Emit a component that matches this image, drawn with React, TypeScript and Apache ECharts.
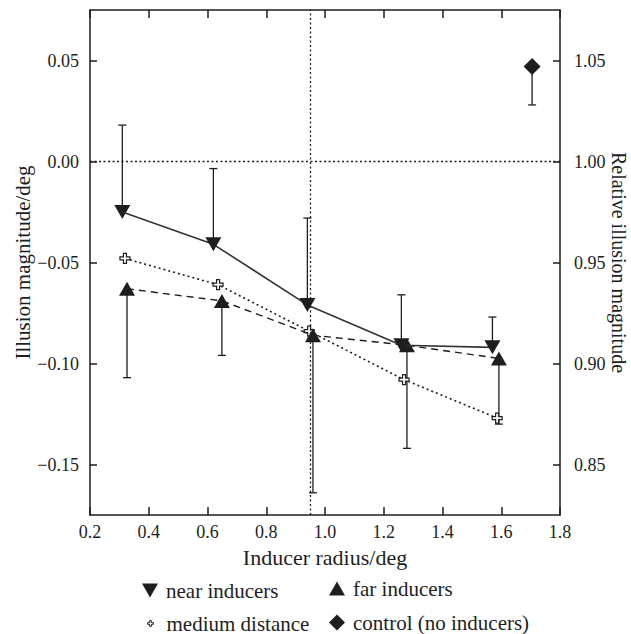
import React, { useEffect, useRef } from "react";
import * as echarts from "echarts";

// ---- data ----
const xNear = [0.31, 0.62, 0.94, 1.26, 1.57];
const yNear = [-0.025, -0.041, -0.071, -0.091, -0.092];
const nearErrTop = [0.018, -0.0035, -0.028, -0.066, -0.077];

const xFar = [0.326, 0.649, 0.959, 1.279, 1.592];
const yFar = [-0.063, -0.069, -0.086, -0.091, -0.0975];
const farErrBottom = [-0.107, -0.096, -0.164, -0.142, -0.13];

const xMedium = [0.319, 0.636, 0.946, 1.269, 1.586];
const yMedium = [-0.048, -0.061, -0.084, -0.108, -0.127];

const xControl = [1.705];
const yControl = [0.047];
const controlErrBottom = [0.028];

const xTicks = [0.2, 0.4, 0.6, 0.8, 1.0, 1.2, 1.4, 1.6, 1.8];
const yLeftTicks = [-0.15, -0.1, -0.05, 0, 0.05];
const yRightTicks = [0.85, 0.9, 0.95, 1.0, 1.05];

const markerLineX = 0.95;
const markerLineY = 0;

const FONT = "Liberation Serif";
const INK = "#1e1e1e";

const DOWN_TRI = "path://M0,0L10,0L5,8.6Z";
const UP_TRI = "path://M5,0L10,8.6L0,8.6Z";
const PLUS =
  "path://M3.5,0L6.5,0L6.5,3.5L10,3.5L10,6.5L6.5,6.5L6.5,10L3.5,10L3.5,6.5L0,6.5L0,3.5L3.5,3.5Z";
const PLUS_PADDED =
  "path://M-4,-4M24,24M8.5,5L11.5,5L11.5,8.5L15,8.5L15,11.5L11.5,11.5L11.5,15L8.5,15L8.5,11.5L5,11.5L5,8.5L8.5,8.5Z";

const fmt = (v: number) => v.toFixed(2).replace("-", "\u2212");

function zip(xs: number[], ys: number[]) {
  return xs.map((x, i) => [x, ys[i]]);
}
function zip3(xs: number[], ys: number[], es: number[]) {
  return xs.map((x, i) => [x, ys[i], es[i]]);
}

const errRender = (params: any, api: any) => {
  const p = api.coord([api.value(0), api.value(1)]);
  const e = api.coord([api.value(0), api.value(2)]);
  return {
    type: "group",
    children: [
      {
        type: "line",
        shape: { x1: p[0], y1: p[1], x2: e[0], y2: e[1] },
        style: { stroke: INK, lineWidth: 1.3 },
      },
      {
        type: "line",
        shape: { x1: e[0] - 4, y1: e[1], x2: e[0] + 4, y2: e[1] },
        style: { stroke: INK, lineWidth: 1.3 },
      },
    ],
  };
};

function legendItem(left: number, top: number, item: any) {
  return {
    left,
    top,
    orient: "horizontal",
    itemWidth: 16,
    itemHeight: 16,
    padding: 0,
    selectedMode: false,
    textStyle: { fontFamily: FONT, fontSize: 21, color: INK, padding: [0, 0, 0, 3] },
    data: [item],
  };
}

export default function App() {
  const ref = useRef<HTMLDivElement>(null);

  useEffect(() => {
    if (!ref.current) return;
    const chart = echarts.init(ref.current, undefined, { renderer: "svg" });

    const axisLine = { show: true, onZero: false, lineStyle: { color: INK, width: 1.5 } };
    const tickStyle = { color: INK, width: 1.5 };

    chart.setOption({
      animation: false,
      backgroundColor: "#fff",
      textStyle: { fontFamily: FONT, color: INK },
      grid: {
        left: 90,
        right: 71,
        top: 10,
        bottom: 119,
        containLabel: false,
        outerBoundsMode: "none",
      },
      xAxis: [
        {
          type: "value",
          position: "bottom",
          min: 0.2,
          max: 1.8,
          interval: 0.2,
          name: "Inducer radius/deg",
          nameLocation: "middle",
          nameGap: 31,
          nameTextStyle: { fontFamily: FONT, fontSize: 22, color: INK },
          axisLine,
          axisTick: { show: true, inside: true, length: 8, lineStyle: tickStyle, customValues: xTicks },
          axisLabel: {
            fontFamily: FONT,
            fontSize: 18,
            color: INK,
            margin: 8,
            customValues: xTicks,
            formatter: (v: number) => v.toFixed(1),
          },
          splitLine: { show: false },
        },
        {
          type: "value",
          position: "top",
          min: 0.2,
          max: 1.8,
          interval: 0.2,
          axisLine,
          axisTick: { show: true, inside: true, length: 8, lineStyle: tickStyle, customValues: xTicks },
          axisLabel: { show: false },
          splitLine: { show: false },
        },
      ],
      yAxis: [
        {
          type: "value",
          position: "left",
          min: -0.175,
          max: 0.075,
          name: "Illusion magnitude/deg",
          nameLocation: "middle",
          nameGap: 57,
          nameMoveOverlap: false,
          nameRotate: 90,
          nameTextStyle: { fontFamily: FONT, fontSize: 21, color: INK },
          axisLine,
          axisTick: { show: true, inside: true, length: 7, lineStyle: tickStyle, customValues: yLeftTicks },
          axisLabel: {
            fontFamily: FONT,
            fontSize: 18,
            color: INK,
            margin: 11,
            customValues: yLeftTicks,
            formatter: (v: number) => fmt(v),
          },
          splitLine: { show: false },
        },
        {
          type: "value",
          position: "right",
          min: 0.825,
          max: 1.075,
          name: "Relative illusion magnitude",
          nameLocation: "middle",
          nameGap: 49,
          nameMoveOverlap: false,
          nameRotate: -90,
          nameTextStyle: { fontFamily: FONT, fontSize: 20, color: INK },
          axisLine,
          axisTick: { show: true, inside: true, length: 7, lineStyle: tickStyle, customValues: yRightTicks },
          axisLabel: {
            fontFamily: FONT,
            fontSize: 18,
            color: INK,
            margin: 14,
            customValues: yRightTicks,
            formatter: (v: number) => fmt(v),
          },
          splitLine: { show: false },
        },
      ],
      legend: [
        legendItem(142, 580, { name: "near inducers", icon: DOWN_TRI, itemStyle: { color: INK, borderWidth: 0 } }),
        legendItem(142, 613, {
          name: "medium distance",
          icon: PLUS_PADDED,
          itemStyle: { color: "#fff", borderColor: INK, borderWidth: 1 },
        }),
        legendItem(329, 578, { name: "far inducers", icon: UP_TRI, itemStyle: { color: INK, borderWidth: 0 } }),
        legendItem(329, 612, {
          name: "control (no inducers)",
          icon: "diamond",
          itemStyle: { color: INK, borderWidth: 0 },
        }),
      ],
      series: [
        {
          name: "near-err",
          type: "custom",
          renderItem: errRender,
          encode: { x: 0, y: [1, 2] },
          data: zip3(xNear, yNear, nearErrTop),
          z: 1,
          silent: true,
        },
        {
          name: "far-err",
          type: "custom",
          renderItem: errRender,
          encode: { x: 0, y: [1, 2] },
          data: zip3(xFar, yFar, farErrBottom),
          z: 1,
          silent: true,
        },
        {
          name: "control-err",
          type: "custom",
          renderItem: errRender,
          encode: { x: 0, y: [1, 2] },
          data: zip3(xControl, yControl, controlErrBottom),
          z: 1,
          silent: true,
        },
        {
          name: "medium distance",
          type: "line",
          data: zip(xMedium, yMedium),
          symbol: PLUS,
          symbolSize: 10,
          showAllSymbol: true,
          lineStyle: { color: INK, width: 1.6, type: [2, 3] },
          itemStyle: { color: "#fff", borderColor: INK, borderWidth: 1.2 },
          z: 3,
        },
        {
          name: "far inducers",
          type: "line",
          data: zip(xFar, yFar),
          symbol: UP_TRI,
          symbolSize: [16, 14],
          lineStyle: { color: INK, width: 1.4, type: [7, 5] },
          itemStyle: { color: INK, borderWidth: 0 },
          z: 4,
        },
        {
          name: "near inducers",
          type: "line",
          data: zip(xNear, yNear),
          symbol: DOWN_TRI,
          symbolSize: [16, 14],
          lineStyle: { color: "#333", width: 1.6, type: "solid" },
          itemStyle: { color: INK, borderWidth: 0 },
          z: 5,
          markLine: {
            silent: true,
            symbol: ["none", "none"],
            label: { show: false },
            lineStyle: { color: INK, width: 1.3, type: [2, 2.5] },
            data: [{ yAxis: markerLineY }, { xAxis: markerLineX }],
          },
        },
        {
          name: "control (no inducers)",
          type: "scatter",
          data: zip(xControl, yControl),
          symbol: "diamond",
          symbolSize: [17, 17],
          itemStyle: { color: INK, opacity: 1 },
          z: 5,
        },
      ],
    });

    return () => chart.dispose();
  }, []);

  return (
    <div
      ref={ref}
      style={{ position: "fixed", left: 0, top: 0, width: 631, height: 634, background: "#fff" }}
    />
  );
}
